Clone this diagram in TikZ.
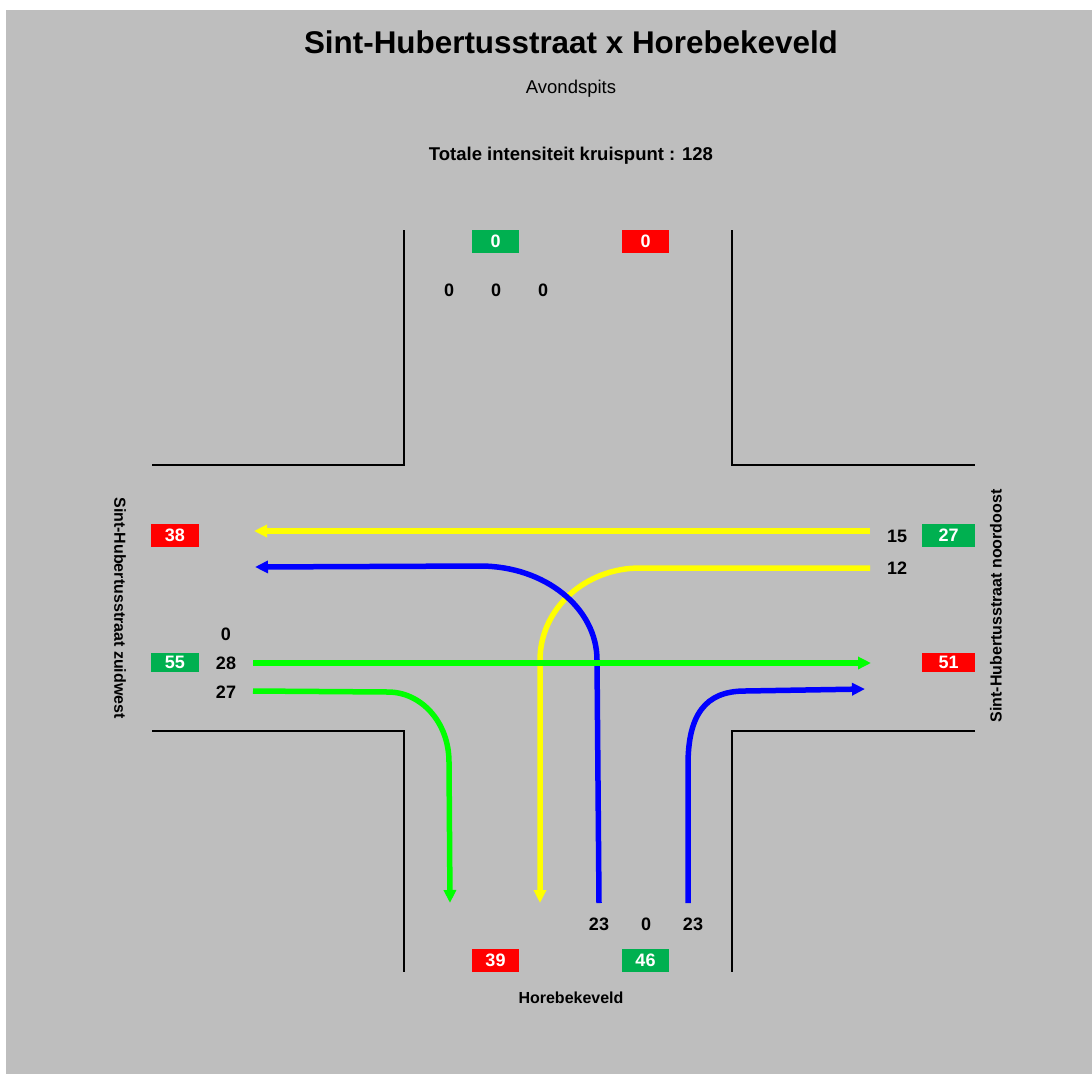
\documentclass[tikz,border=0pt]{standalone}
\usepackage{fontspec}
\setmainfont{Liberation Sans}
\usetikzlibrary{arrows.meta}

\definecolor{bgGray}{HTML}{BEBEBE}
\definecolor{boxGreen}{HTML}{00B050}
\definecolor{boxRed}{HTML}{FF0000}
\definecolor{flowGreen}{HTML}{00FF00}
\definecolor{flowYellow}{HTML}{FFFF00}
\definecolor{flowBlue}{HTML}{0000FF}

\begin{document}
\begin{tikzpicture}[
    x=1pt, y=-1pt,
    road/.style={draw=black, line width=2pt},
    flow/.style={line width=5.5pt, -{Triangle[length=13pt, width=12pt]}},
    inbox/.style={fill=boxGreen, text=white, font=\fontsize{18}{20}\selectfont\bfseries,
        minimum width=47pt, minimum height=23pt, inner sep=0pt},
    outbox/.style={inbox, fill=boxRed},
    cnt/.style={font=\fontsize{18}{20}\selectfont\bfseries, inner sep=0pt},
    street/.style={font=\fontsize{16}{18}\selectfont\bfseries, inner sep=0pt},
]
% background
\useasboundingbox (0,0) rectangle (1092,1074);
\fill[white] (0,0) rectangle (1092,1074);
\fill[bgGray] (6,10) rectangle (1092,1074);

% --- titles ---
\node[anchor=base, font=\fontsize{31.4}{34}\selectfont\bfseries] (title) at (571,53) {Sint-Hubertusstraat x Horebekeveld};
\node[anchor=base, font=\fontsize{18.5}{21}\selectfont] (period) at (571,93) {Avondspits};
\node[anchor=base, font=\fontsize{18.5}{21}\selectfont\bfseries] (total) at (571,160) {Totale intensiteit kruispunt : 128};

% --- road edges ---
\draw[road] (404,230) -- (404,465) -- (152,465);
\draw[road] (732,230) -- (732,465) -- (975,465);
\draw[road] (152,731) -- (404,731) -- (404,972);
\draw[road] (975,731) -- (732,731) -- (732,972);

% --- north arm ---
\node[inbox] (nIn) at (495.5,241) {0};
\node[outbox] (nOut) at (645.5,241) {0};
\foreach \x/\n in {449/cN1, 496/cN2, 543/cN3}
    \node[cnt] (\n) at (\x,290) {0};

% --- west arm ---
\node[outbox, minimum width=48pt] (wOut) at (175,535) {38};
\node[inbox, minimum width=48pt, minimum height=19pt] (wIn) at (175,662.5) {55};
\node[cnt] (cW1) at (226,634) {0};
\node[cnt] (cW2) at (226,663) {28};
\node[cnt] (cW3) at (226,692) {27};
\node[street, rotate=-90] (wName) at (120,608) {Sint-Hubertusstraat zuidwest};

% --- east arm ---
\node[inbox, minimum width=53pt] (eIn) at (948.5,535) {27};
\node[outbox, minimum width=53pt, minimum height=19pt] (eOut) at (948.5,662.5) {51};
\node[cnt] (cE1) at (897,536) {15};
\node[cnt] (cE2) at (897,568) {12};
\node[street, rotate=90] (eName) at (996,606) {Sint-Hubertusstraat noordoost};

% --- south arm ---
\node[outbox] (sOut) at (495.5,960.5) {39};
\node[inbox] (sIn) at (645.5,960.5) {46};
\node[cnt] (cS1) at (599,924) {23};
\node[cnt] (cS2) at (646,924) {0};
\node[cnt] (cS3) at (693,924) {23};
\node[street, anchor=base] (sName) at (571,1003) {Horebekeveld};

% --- flows ---
\draw[flow, flowYellow] (870,531) -- (254,531);
\draw[flow, flowYellow] (870,568) -- (640,568)
    .. controls (585,568) and (540,609) .. (540,660) -- (540,903);
\draw[flow, flowBlue] (599,903) -- (597,660)
    .. controls (597,608) and (545,566) .. (480,566) -- (255,567);
\draw[flow, flowGreen] (253,663) -- (871,663);
\draw[flow, flowGreen] (253,691) -- (388,692)
    .. controls (421,692) and (449,722) .. (449,762) -- (450,903);
\draw[flow, flowBlue] (688,903) -- (688,765)
    .. controls (688,715) and (705,691) .. (745,691) -- (865,689);

\end{tikzpicture}
\end{document}
